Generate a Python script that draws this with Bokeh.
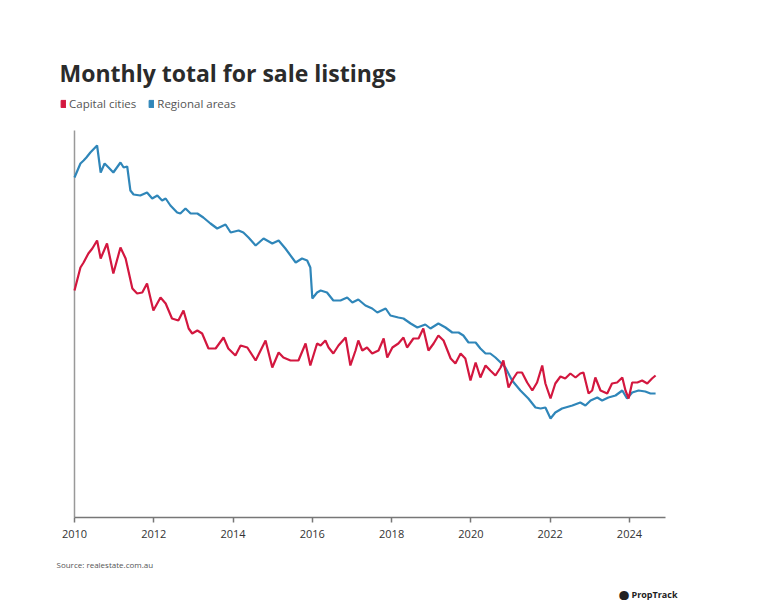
from bokeh.plotting import figure
from bokeh.models import FixedTicker, Range1d, Legend, LegendItem, Title
from bokeh.embed import file_html
from bokeh.resources import INLINE

# decimal years and values (index units)
regional_years = [2010.00, 2010.15, 2010.23, 2010.30, 2010.40, 2010.57, 2010.66, 2010.76, 2010.86, 2010.98,
                  2011.16, 2011.24, 2011.33, 2011.41, 2011.49, 2011.66, 2011.83, 2011.96, 2012.09, 2012.21,
                  2012.30, 2012.42, 2012.59, 2012.67, 2012.80, 2012.93, 2013.10, 2013.25, 2013.43, 2013.60,
                  2013.81, 2013.94, 2014.14, 2014.26, 2014.39, 2014.57, 2014.77, 2014.99, 2015.15, 2015.32,
                  2015.58, 2015.74, 2015.87, 2015.95, 2016.00, 2016.12, 2016.21, 2016.37, 2016.53, 2016.71,
                  2016.88, 2017.01, 2017.16, 2017.34, 2017.51, 2017.64, 2017.85, 2017.97, 2018.17, 2018.30,
                  2018.48, 2018.65, 2018.85, 2018.98, 2019.18, 2019.36, 2019.53, 2019.69, 2019.81, 2019.94,
                  2020.12, 2020.24, 2020.37, 2020.49, 2020.62, 2020.75, 2020.87, 2021.04, 2021.25, 2021.45,
                  2021.63, 2021.76, 2021.88, 2022.01, 2022.13, 2022.30, 2022.56, 2022.76, 2022.89, 2023.02,
                  2023.19, 2023.31, 2023.47, 2023.65, 2023.82, 2023.94, 2024.07, 2024.23, 2024.40, 2024.53,
                  2024.66]
regional_values = [340, 354, 357, 360, 365, 372, 345, 354, 350, 345,
                   355, 350, 351, 327, 323, 322, 325, 319, 322, 317,
                   319, 312, 305, 304, 309, 304, 304, 300, 294, 289,
                   293, 285, 287, 285, 280, 272, 279, 274, 277, 269,
                   255, 259, 257, 250, 219, 225, 227, 225, 217, 217,
                   220, 215, 218, 212, 209, 205, 209, 202, 200, 199,
                   194, 190, 193, 189, 194, 190, 185, 185, 182, 175,
                   175, 169, 164, 164, 160, 155, 150, 137, 127, 119,
                   110, 109, 110, 99, 105, 109, 112, 115, 112, 117,
                   120, 117, 120, 122, 127, 119, 125, 127, 126, 124,
                   124]

capital_years = [2010.00, 2010.15, 2010.23, 2010.35, 2010.45, 2010.57, 2010.66, 2010.82, 2010.98, 2011.16,
                 2011.29, 2011.46, 2011.58, 2011.71, 2011.83, 2011.99, 2012.17, 2012.30, 2012.46, 2012.62,
                 2012.75, 2012.88, 2012.97, 2013.10, 2013.22, 2013.38, 2013.56, 2013.76, 2013.88, 2014.06,
                 2014.19, 2014.36, 2014.57, 2014.82, 2014.99, 2015.15, 2015.27, 2015.45, 2015.65, 2015.83,
                 2015.95, 2016.12, 2016.21, 2016.33, 2016.41, 2016.53, 2016.66, 2016.84, 2016.96, 2017.09,
                 2017.16, 2017.26, 2017.38, 2017.51, 2017.67, 2017.80, 2017.89, 2018.02, 2018.17, 2018.30,
                 2018.39, 2018.55, 2018.68, 2018.80, 2018.93, 2019.06, 2019.18, 2019.31, 2019.49, 2019.61,
                 2019.74, 2019.86, 2019.99, 2020.12, 2020.24, 2020.37, 2020.49, 2020.62, 2020.75, 2020.82,
                 2020.95, 2021.07, 2021.17, 2021.29, 2021.42, 2021.55, 2021.67, 2021.80, 2021.88, 2022.01,
                 2022.13, 2022.26, 2022.38, 2022.51, 2022.64, 2022.76, 2022.84, 2022.97, 2023.06, 2023.14,
                 2023.27, 2023.44, 2023.56, 2023.69, 2023.82, 2023.90, 2023.98, 2024.07, 2024.20, 2024.32,
                 2024.45, 2024.57, 2024.66]
capital_values = [227, 250, 255, 264, 269, 277, 259, 274, 244, 270,
                  259, 229, 224, 225, 234, 207, 220, 214, 199, 197,
                  207, 189, 184, 187, 184, 169, 169, 180, 169, 162,
                  172, 170, 157, 177, 150, 165, 160, 157, 157, 174,
                  152, 174, 172, 177, 170, 164, 172, 180, 152, 167,
                  177, 167, 170, 164, 167, 179, 160, 170, 174, 180,
                  170, 179, 179, 189, 167, 174, 182, 177, 159, 154,
                  164, 159, 137, 155, 140, 152, 147, 142, 150, 157,
                  130, 139, 145, 145, 135, 127, 135, 152, 134, 119,
                  134, 141, 139, 144, 140, 144, 145, 124, 127, 140,
                  127, 124, 134, 135, 140, 127, 119, 135, 135, 137,
                  134, 139, 142]

tick_years = [2010, 2012, 2014, 2016, 2018, 2020, 2022, 2024]
x_end = 2024.91
y_axis_top = 387
series_names = ["Capital cities", "Regional areas"]
title_text = "Monthly total for sale listings"
source_text = "Source: realestate.com.au"
brand_text = "⬤ PropTrack"

RED = "#d3173f"
BLUE = "#2f86b9"
FONT = "Open Sans"

p = figure(width=775, height=600, output_backend="svg", toolbar_location=None,
           x_range=Range1d(2009.546, x_end), y_range=Range1d(0, 427),
           min_border_left=56, min_border_right=110, min_border_top=90, min_border_bottom=83)
p.outline_line_color = None
p.xgrid.visible = False
p.ygrid.visible = False
p.yaxis.visible = False

# left axis line drawn from the first tick up to the top of the value scale
p.segment(x0=[tick_years[0]], y0=[0], x1=[tick_years[0]], y1=[y_axis_top],
          line_color="#999999", line_width=1.5)

p.line(regional_years, regional_values, line_color=BLUE, line_width=2.2)
p.line(capital_years, capital_values, line_color=RED, line_width=2.2)

# legend-only swatches: drawn on an off-screen range so only the legend shows them
p.extra_y_ranges = {"swatch": Range1d(10000, 10001)}
sw_red = p.quad(left=capital_years[:1], right=capital_years[1:2], bottom=capital_values[:1],
                top=capital_values[1:2], y_range_name="swatch", fill_color=RED, line_color=RED)
sw_blue = p.quad(left=regional_years[:1], right=regional_years[1:2], bottom=regional_values[:1],
                 top=regional_values[1:2], y_range_name="swatch", fill_color=BLUE, line_color=BLUE)

xa = p.xaxis[0]
xa.ticker = FixedTicker(ticks=tick_years)
xa.bounds = (tick_years[0], x_end)
xa.axis_line_color = "#777777"
xa.axis_line_width = 1.5
xa.major_tick_line_color = "#777777"
xa.major_tick_line_width = 1.5
xa.major_tick_in = 0
xa.major_tick_out = 5
xa.minor_tick_line_color = None
xa.major_label_text_font = FONT
xa.major_label_text_font_size = "11px"
xa.major_label_text_color = "#333333"
xa.major_label_standoff = 7

legend = Legend(items=[LegendItem(label=series_names[0], renderers=[sw_red]),
                       LegendItem(label=series_names[1], renderers=[sw_blue])],
                orientation="horizontal", location=(4, 406), padding=0, margin=0, spacing=12,
                glyph_width=6, glyph_height=9, label_height=12, label_standoff=3,
                label_text_font=FONT, label_text_font_size="11.5px", label_text_color="#555555",
                background_fill_alpha=0, border_line_color=None)
p.add_layout(legend, "center")

p.add_layout(Title(text=title_text, text_font=FONT, text_font_style="bold", text_font_size="23px",
                   text_color="#2b2b2b", offset=3, standoff=4), "above")

p.add_layout(Title(text=source_text, text_font=FONT, text_font_style="normal", text_font_size="8px",
                   text_color="#555555", offset=0, standoff=32), "below")
p.add_layout(Title(text=brand_text, text_font=FONT, text_font_style="bold", text_font_size="9px",
                   text_color="#222222", align="right", offset=-12, standoff=0), "below")

open("out.html", "w").write(file_html(p, INLINE))
